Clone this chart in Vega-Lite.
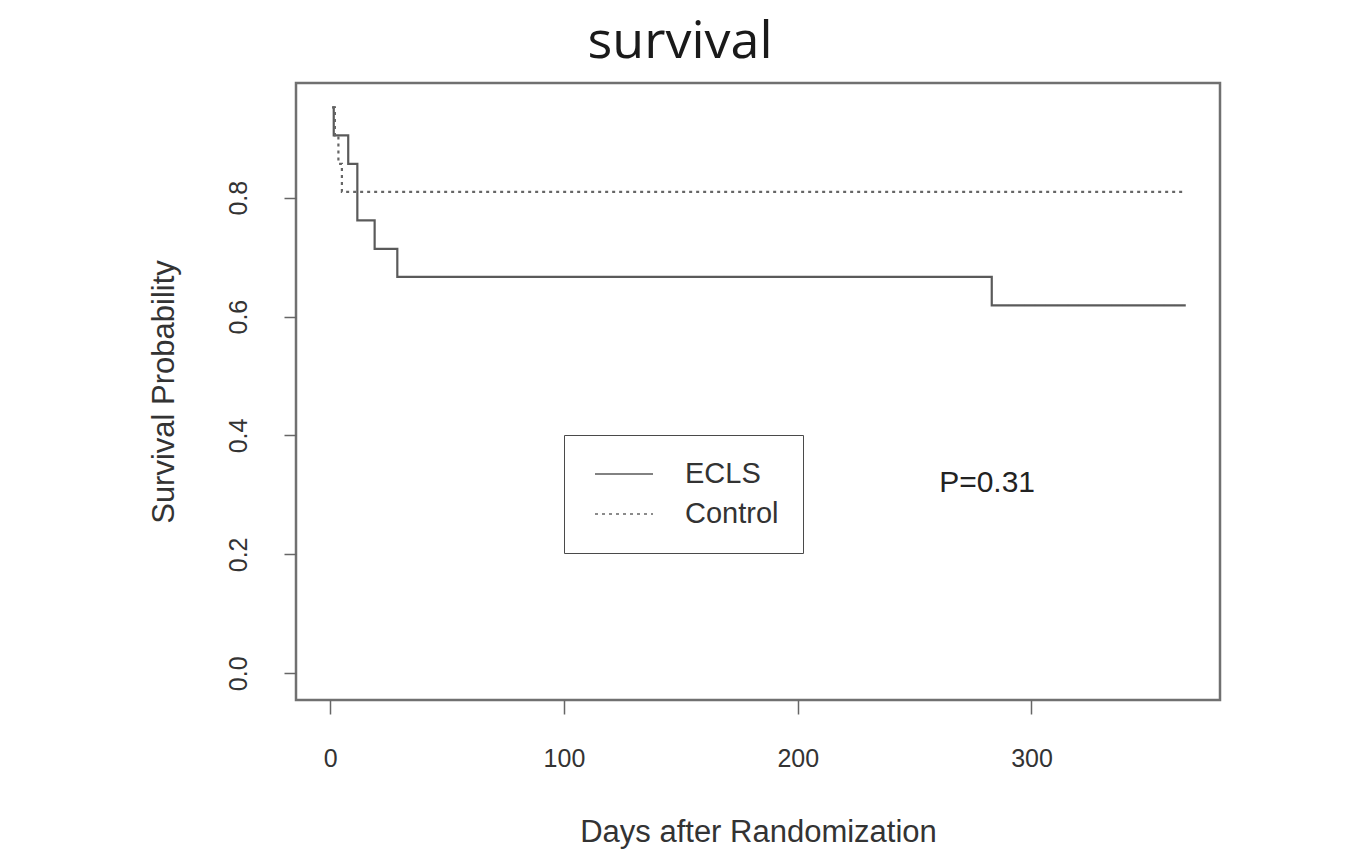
{
  "$schema": "https://vega.github.io/schema/vega-lite/v6.json",
  "width": 924,
  "height": 617,
  "autosize": {"type": "none"},
  "padding": {"left": 296, "top": 83, "right": 127, "bottom": 156},
  "background": "white",
  "title": {"text": "survival", "fontSize": 52, "font": "Open Sans", "fontWeight": 500, "color": "#1a1a1a", "anchor": "middle", "dx": -78, "offset": 14},
  "config": {
    "view": {"stroke": "#707070", "strokeWidth": 2.5},
    "axis": {"domain": false, "grid": false, "tickColor": "#666", "tickWidth": 1.5, "labelFont": "Liberation Sans", "labelFontSize": 25, "labelColor": "#333", "titleFont": "Liberation Sans", "titleFontSize": 31, "titleFontWeight": "normal", "titleColor": "#333"},
    "legend": {"labelFont": "Liberation Sans", "labelFontSize": 29, "labelColor": "#333"}
  },
  "data": {"values": [
    {"group": "ECLS", "day": 0.8, "surv": 0.952},
    {"group": "ECLS", "day": 1.5, "surv": 0.905},
    {"group": "ECLS", "day": 7.7, "surv": 0.857},
    {"group": "ECLS", "day": 11.6, "surv": 0.762},
    {"group": "ECLS", "day": 19, "surv": 0.714},
    {"group": "ECLS", "day": 28.7, "surv": 0.667},
    {"group": "ECLS", "day": 283, "surv": 0.619},
    {"group": "ECLS", "day": 366, "surv": 0.619},
    {"group": "Control", "day": 1, "surv": 0.952},
    {"group": "Control", "day": 2, "surv": 0.905},
    {"group": "Control", "day": 3.5, "surv": 0.857},
    {"group": "Control", "day": 5, "surv": 0.81},
    {"group": "Control", "day": 366, "surv": 0.81}
  ]},
  "layer": [
    {
      "mark": {"type": "line", "interpolate": "step-after", "strokeWidth": 2.2},
      "encoding": {
        "x": {"field": "day", "type": "quantitative", "scale": {"domain": [-14.64, 380.64], "nice": false, "zero": false},
          "axis": {"values": [0, 100, 200, 300], "tickSize": 14, "labelPadding": 32, "title": "Days after Randomization", "titlePadding": 46}},
        "y": {"field": "surv", "type": "quantitative", "scale": {"domain": [-0.045, 0.993], "nice": false, "zero": false},
          "axis": {"values": [0, 0.2, 0.4, 0.6, 0.8], "format": ".1f", "tickSize": 12, "labelAngle": -90, "labelAlign": "center", "labelBaseline": "bottom", "labelPadding": 33, "title": "Survival Probability", "titlePadding": 46}},
        "color": {"field": "group", "type": "nominal", "scale": {"domain": ["ECLS", "Control"], "range": ["#5a5a5a", "#666666"]},
          "legend": {"title": null, "orient": "none", "legendX": 268, "legendY": 352, "strokeColor": "#4a4a4a", "padding": 24, "clipHeight": 30, "symbolType": "stroke", "symbolSize": 3364, "symbolStrokeWidth": 1.6, "symbolOffset": 6, "labelOffset": 31, "rowPadding": 10}},
        "strokeDash": {"field": "group", "type": "nominal", "scale": {"domain": ["ECLS", "Control"], "range": [[1, 0], [3, 4]]},
          "legend": {"title": null, "orient": "none", "legendX": 268, "legendY": 352, "strokeColor": "#4a4a4a", "padding": 24, "clipHeight": 30, "symbolType": "stroke", "symbolSize": 3364, "symbolStrokeWidth": 1.6, "symbolOffset": 6, "labelOffset": 31, "rowPadding": 10}}
      }
    },
    {
      "data": {"values": [{"day": 281, "surv": 0.32, "label": "P=0.31"}]},
      "mark": {"type": "text", "font": "Liberation Sans", "fontSize": 30, "color": "#222", "align": "center", "baseline": "middle"},
      "encoding": {
        "x": {"field": "day", "type": "quantitative"},
        "y": {"field": "surv", "type": "quantitative"},
        "text": {"field": "label"}
      }
    }
  ]
}
